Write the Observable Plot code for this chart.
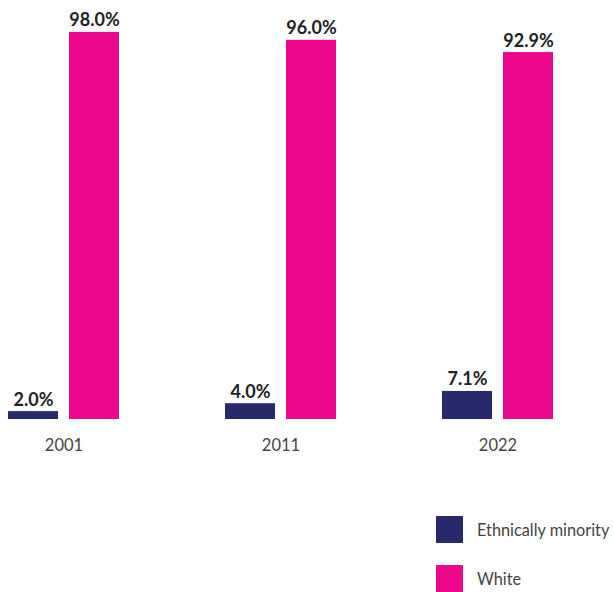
<!DOCTYPE html>
<html>
<head>
<meta charset="utf-8">
<script src="https://cdn.jsdelivr.net/npm/d3@7"></script>
<script src="https://cdn.jsdelivr.net/npm/@observablehq/plot@0.6"></script>
<style>
  body { margin: 0; background: #fff; font-family: Lato, "Open Sans", sans-serif; }
  #wrap { position: relative; width: 614px; height: 592px; overflow: hidden; }
  .leg { position: absolute; left: 436px; display: flex; align-items: center; font-size: 16.3px; color: #444; }
  .sw { width: 27px; height: 27px; margin-right: 14px; }
</style>
</head>
<body>
<div id="wrap"></div>
<script>
const years = ["2001", "2011", "2022"];
const seriesNames = ["Ethnically minority", "White"];
const minorityValues = [2.0, 4.0, 7.1];
const whiteValues = [98.0, 96.0, 92.9];
const colors = ["#27296b", "#ec078c"];

const data = [];
years.forEach((y, i) => {
  data.push({year: y, series: seriesNames[0], value: minorityValues[i]});
  data.push({year: y, series: seriesNames[1], value: whiteValues[i]});
});

const chart = Plot.plot({
  width: 614,
  height: 459,
  marginLeft: 7,
  marginRight: 59,
  marginTop: 24,
  marginBottom: 40,
  style: {fontFamily: "Lato, 'Open Sans', sans-serif", background: "#fff"},
  fx: {domain: years, paddingInner: 0.479, paddingOuter: 0, label: null},
  x: {domain: seriesNames, paddingInner: 0.1774, paddingOuter: 0, axis: null},
  y: {domain: [0, 100], axis: null},
  color: {domain: seriesNames, range: colors},
  marks: [
    Plot.axisFx({anchor: "bottom", tickSize: 0, tickPadding: 20, fontSize: 16.5, fill: "#444", label: null}),
    Plot.barY(data, {fx: "year", x: "series", y: "value", fill: "series"}),
    Plot.text(data, {fx: "year", x: "series", y: "value", text: d => d.value.toFixed(1) + "%",
      lineAnchor: "bottom", dy: -6, fontSize: 18, fontWeight: "bold", fill: "#222"})
  ]
});
const wrap = document.getElementById("wrap");
wrap.appendChild(chart);

const tops = [516, 565];
seriesNames.forEach((name, i) => {
  const d = document.createElement("div");
  d.className = "leg";
  d.style.top = tops[i] + "px";
  d.innerHTML = `<div class="sw" style="background:${colors[i]}"></div><span>${name}</span>`;
  wrap.appendChild(d);
});
</script>
</body>
</html>
